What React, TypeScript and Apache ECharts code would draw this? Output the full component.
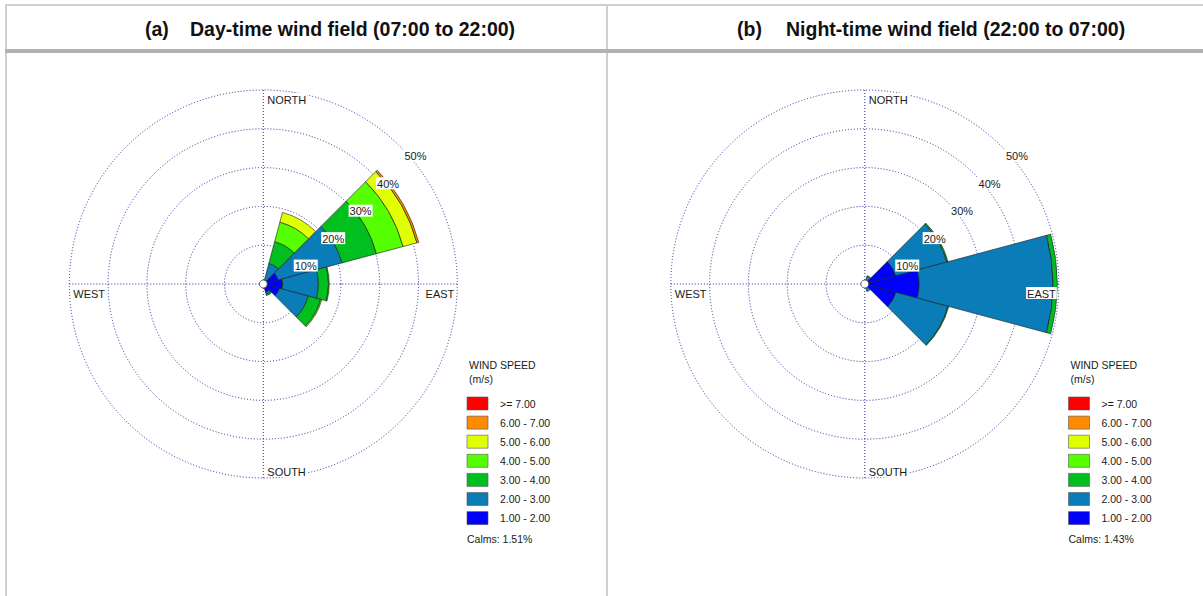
import React, { useEffect, useRef } from "react";
import * as echarts from "echarts";

// ---------- data ----------
const directions = ["N", "NNE", "ENE", "E", "ESE", "SSE", "S", "SSW", "WSW", "W", "WNW", "NNW"];
const speedClasses = ["1.00 - 2.00", "2.00 - 3.00", "3.00 - 4.00", "4.00 - 5.00", "5.00 - 6.00", "6.00 - 7.00", ">= 7.00"];
const speedColors = ["#0000ff", "#0a7cb8", "#00bf1f", "#55ff00", "#e0ff00", "#ff8c00", "#ff0000"];
const ringTicks = [10, 20, 30, 40, 50];

// Day-time frequencies (%) per direction, per speed class
const day1to2 = [0, 1.0, 4.0, 5.0, 4.3, 2.2, 0, 0, 0, 0, 0, 0];
const day2to3 = [0, 4.5, 17.0, 9.2, 7.7, 0.5, 0, 0, 0, 0, 0, 0];
const day3to4 = [0, 5.8, 9.2, 2.6, 3.3, 0.4, 0, 0, 0, 0, 0, 0];
const day4to5 = [0, 5.2, 7.1, 0.2, 0.3, 0, 0, 0, 0, 0, 0, 0];
const day5to6 = [0, 2.6, 3.7, 0, 0, 0, 0, 0, 0, 0, 0, 0];
const day6to7 = [0, 0, 0.5, 0, 0, 0, 0, 0, 0, 0, 0, 0];
const day7up = [0, 0, 0, 0, 0, 0, 0, 0, 0, 0, 0, 0];
const dayCalms = 1.51;

// Night-time frequencies (%)
const night1to2 = [0, 1.0, 8.2, 14.0, 8.3, 1.0, 0, 0, 0, 0, 0, 0];
const night2to3 = [0, 1.2, 13.7, 34.5, 13.9, 1.0, 0, 0, 0, 0, 0, 0];
const night3to4 = [0, 0, 0.3, 1.1, 0.2, 0, 0, 0, 0, 0, 0, 0];
const night4to5 = [0, 0, 0, 0, 0, 0, 0, 0, 0, 0, 0, 0];
const night5to6 = [0, 0, 0, 0, 0, 0, 0, 0, 0, 0, 0, 0];
const night6to7 = [0, 0, 0, 0, 0, 0, 0, 0, 0, 0, 0, 0];
const night7up = [0, 0, 0, 0, 0, 0, 0, 0, 0, 0, 0, 0];
const nightCalms = 1.43;

const panelTitles = [
  { tag: "(a)", text: "Day-time wind field (07:00 to 22:00)" },
  { tag: "(b)", text: "Night-time wind field (22:00 to 07:00)" },
];

// ---------- layout ----------
const W = 1203;
const H = 596;
const R = 194;
const CY = 284;
const CX = [263.3, 864.8];
const LEG_X = [467, 1068.5];
const TITLE_TAG_X = [145, 737];
const TITLE_X = [190, 786];
const FONT = '"Liberation Sans", Arial, sans-serif';
const GRID_COLOR = "#2c2c9c";
const TEXT_COLOR = "#1a1a1a";
const RMAX = 50;

function txt(x: number, y: number, text: string, extra: any = {}, styleExtra: any = {}) {
  const align = styleExtra.align || "left";
  const vAlign = styleExtra.verticalAlign || "middle";
  return {
    type: "text",
    x,
    y,
    z: 100,
    silent: true,
    ...extra,
    style: {
      text,
      fill: TEXT_COLOR,
      font: `11px ${FONT}`,
      ...styleExtra,
      align,
      textAlign: align,
      verticalAlign: vAlign,
      textVerticalAlign: vAlign,
    },
  };
}

function roseGraphics(p: number, calms: number) {
  const cx = CX[p];
  const els: any[] = [];
  const lab = { backgroundColor: "#fff", padding: [1, 1, 0, 1] };
  // compass labels
  els.push(txt(cx + 3, CY - R + 3, "NORTH", {}, { ...lab, verticalAlign: "top" }));
  els.push(txt(cx + 3, CY + R - 1, "SOUTH", {}, { ...lab, verticalAlign: "bottom" }));
  els.push(txt(cx - R + 3, CY + 3, "WEST", {}, { ...lab, verticalAlign: "top" }));
  els.push(txt(cx + R - 2, CY + 3, "EAST", {}, { ...lab, verticalAlign: "top", align: "right" }));
  // ring labels along the 45 degree diagonal
  ringTicks.forEach((v) => {
    const r = (v / RMAX) * R;
    const px = cx + r * Math.SQRT1_2;
    const py = CY - r * Math.SQRT1_2;
    els.push(txt(px + 3, py + 3, v + "%", {}, { ...lab, verticalAlign: "top" }));
  });
  // calms circle
  els.push({
    type: "circle",
    z: 100,
    silent: true,
    shape: { cx, cy: CY, r: 4 },
    style: { fill: "#fff", stroke: "#444", lineWidth: 0.8 },
  });
  // legend
  const lx = LEG_X[p];
  els.push(txt(lx + 2, 365, "WIND SPEED", {}, { font: `10.5px ${FONT}` }));
  els.push(txt(lx + 2, 379, "(m/s)", {}, { font: `10.5px ${FONT}` }));
  for (let k = 0; k < speedClasses.length; k++) {
    const i = speedClasses.length - 1 - k;
    const top = 397 + k * 19.1;
    els.push({
      type: "rect",
      z: 100,
      silent: true,
      shape: { x: lx, y: top, width: 21, height: 13 },
      style: { fill: speedColors[i], stroke: "#555", lineWidth: 0.6 },
    });
    els.push(txt(lx + 33, top + 6.8, speedClasses[i], {}, { font: `10.5px ${FONT}` }));
  }
  els.push(txt(lx, 539, `Calms: ${calms.toFixed(2)}%`, {}, { font: `10.5px ${FONT}` }));
  // title
  els.push(txt(TITLE_TAG_X[p], 29, panelTitles[p].tag, {}, { font: `bold 19.5px ${FONT}`, fill: "#111" }));
  els.push(txt(TITLE_X[p], 29, panelTitles[p].text, {}, { font: `bold 19.5px ${FONT}`, fill: "#111" }));
  return els;
}

function barSeries(polarIndex: number, layers: number[][]) {
  return layers.map((d, i) => ({
    type: "bar",
    name: speedClasses[i],
    coordinateSystem: "polar",
    polarIndex,
    stack: "rose" + polarIndex,
    data: d.map((v) => (v > 0 ? v : null)),
    barCategoryGap: "0%",
    silent: true,
    z: 3,
    itemStyle: { color: speedColors[i], borderColor: "#1a1a1a", borderWidth: 0.6 },
  }));
}

function gridAngle(polarIndex: number) {
  return {
    polarIndex,
    type: "value",
    min: 0,
    max: 360,
    interval: 90,
    startAngle: 90,
    clockwise: true,
    axisLine: { show: false },
    axisTick: { show: false },
    axisLabel: { show: false },
    splitLine: { show: true, lineStyle: { color: GRID_COLOR, type: [1, 2], width: 1 } },
  };
}
function gridRadius(polarIndex: number) {
  return {
    polarIndex,
    type: "value",
    min: 0,
    max: RMAX,
    interval: 10,
    axisLine: { show: false },
    axisTick: { show: false },
    axisLabel: { show: false },
    splitLine: { show: true, lineStyle: { color: GRID_COLOR, type: [1, 2], width: 1 } },
  };
}
function barAngle(polarIndex: number) {
  return {
    polarIndex,
    type: "category",
    data: directions,
    startAngle: 105,
    clockwise: true,
    boundaryGap: true,
    axisLine: { show: false },
    axisTick: { show: false },
    axisLabel: { show: false },
    splitLine: { show: false },
  };
}
function barRadius(polarIndex: number) {
  return {
    polarIndex,
    type: "value",
    min: 0,
    max: RMAX,
    axisLine: { show: false },
    axisTick: { show: false },
    axisLabel: { show: false },
    splitLine: { show: false },
  };
}

export default function App() {
  const ref = useRef<HTMLDivElement>(null);
  useEffect(() => {
    if (!ref.current) return;
    const chart = echarts.init(ref.current, null, { renderer: "svg" });
    const borders: any[] = [
      { type: "rect", shape: { x: 5, y: 4, width: W - 5, height: 2 }, style: { fill: "#cfcfcf" }, silent: true },
      { type: "rect", shape: { x: 5, y: 4, width: 2, height: H - 4 }, style: { fill: "#cfcfcf" }, silent: true },
      { type: "rect", shape: { x: 606, y: 4, width: 2, height: H - 4 }, style: { fill: "#cfcfcf" }, silent: true },
      { type: "rect", shape: { x: 5, y: 49, width: W - 5, height: 4 }, style: { fill: "#b2b2b2" }, silent: true },
    ];
    const option: any = {
      animation: false,
      backgroundColor: "#fff",
      polar: [
        { center: [CX[0], CY], radius: R },
        { center: [CX[0], CY], radius: R },
        { center: [CX[1], CY], radius: R },
        { center: [CX[1], CY], radius: R },
      ],
      angleAxis: [gridAngle(0), barAngle(1), gridAngle(2), barAngle(3)],
      radiusAxis: [gridRadius(0), barRadius(1), gridRadius(2), barRadius(3)],
      series: [
        ...barSeries(1, [day1to2, day2to3, day3to4, day4to5, day5to6, day6to7, day7up]),
        ...barSeries(3, [night1to2, night2to3, night3to4, night4to5, night5to6, night6to7, night7up]),
      ],
      graphic: { elements: [...borders, ...roseGraphics(0, dayCalms), ...roseGraphics(1, nightCalms)] },
    };
    chart.setOption(option);
    return () => chart.dispose();
  }, []);
  return (
    <div
      ref={ref}
      style={{ position: "absolute", left: 0, top: 0, width: W, height: H, background: "#fff" }}
    />
  );
}
